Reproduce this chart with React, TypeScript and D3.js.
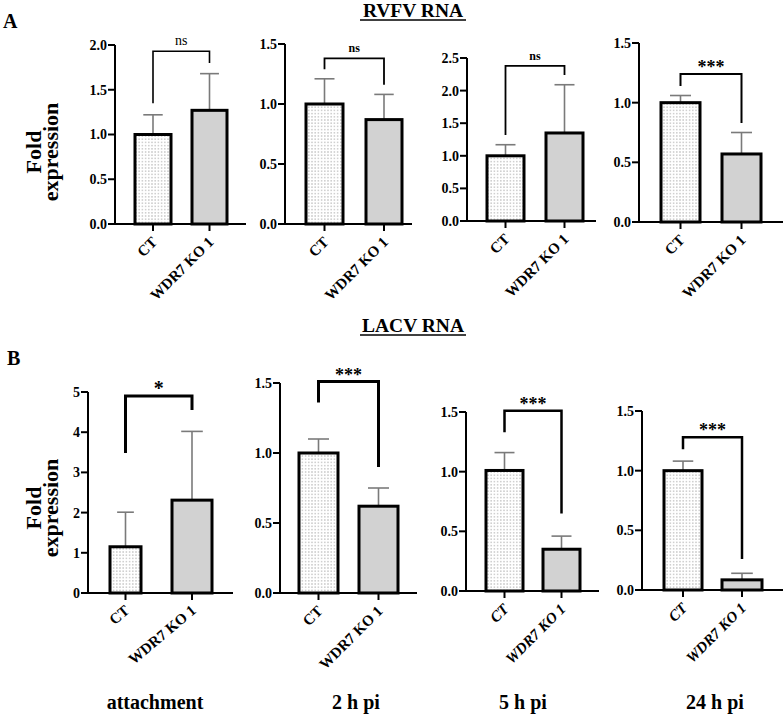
import React from "react";
import * as d3 from "d3";

// ---------- DATA ----------
const groups = ["CT", "WDR7 KO 1"];
const ctMeans = [1.0, 1.0, 1.0, 1.0, 1.15, 1.0, 1.01, 1.0];
const ctUpper = [1.22, 1.21, 1.17, 1.06, 2.01, 1.1, 1.16, 1.08];
const koMeans = [1.27, 0.87, 1.35, 0.57, 2.31, 0.62, 0.35, 0.085];
const koUpper = [1.68, 1.08, 2.09, 0.75, 4.02, 0.75, 0.46, 0.14];
const yMaxes = [2.0, 1.5, 2.5, 1.5, 5, 1.5, 1.5, 1.5];
const ySteps = [0.5, 0.5, 0.5, 0.5, 1, 0.5, 0.5, 0.5];
const sigLabels = ["ns", "ns", "ns", "***", "*", "***", "***", "***"];
const bracketTop = [1.93, 1.38, 2.38, 1.24, 4.9, 1.51, 1.51, 1.28];
const bracketLeftEnd = [1.35, 1.29, 1.32, 1.14, 3.48, 1.36, 1.33, 1.18];
const bracketRightEnd = [1.8, 1.16, 2.24, 0.83, 4.55, 0.9, 0.65, 0.26];
const sectionTitles = ["RVFV RNA", "LACV RNA"];
const sectionLetters = ["A", "B"];
const timeLabels = ["attachment", "2 h pi", "5 h pi", "24 h pi"];
const yAxisTitle = ["Fold", "expression"];

// ---------- LAYOUT ----------
type Layout = {
  axisX: number; xEnd: number; y0: number; yTop: number;
  ctX: number; koX: number; ctW: number; koW: number;
  bw: number; sigSize: number; sigBold: boolean; sigDy: number;
  italic: boolean; rot: number;
};
const layouts: Layout[] = [
  { axisX: 115, xEnd: 246, y0: 224, yTop: 45, ctX: 153, koX: 209.5, ctW: 36, koW: 35, bw: 1.6, sigSize: 14, sigBold: false, sigDy: -6, italic: false, rot: -45 },
  { axisX: 285, xEnd: 412, y0: 224, yTop: 44, ctX: 324.5, koX: 384, ctW: 37, koW: 36, bw: 1.8, sigSize: 12, sigBold: true, sigDy: -6, italic: false, rot: -45 },
  { axisX: 467, xEnd: 596, y0: 221, yTop: 58, ctX: 505.5, koX: 564.5, ctW: 37, koW: 37, bw: 1.8, sigSize: 12, sigBold: true, sigDy: -6, italic: false, rot: -45 },
  { axisX: 639, xEnd: 783, y0: 222, yTop: 43, ctX: 680.5, koX: 741.5, ctW: 39, koW: 39, bw: 2, sigSize: 18, sigBold: true, sigDy: -1, italic: false, rot: -45 },
  { axisX: 88, xEnd: 233, y0: 593, yTop: 392, ctX: 125.5, koX: 192, ctW: 31, koW: 40, bw: 3, sigSize: 20, sigBold: true, sigDy: -1, italic: false, rot: -40 },
  { axisX: 280, xEnd: 417, y0: 593, yTop: 383, ctX: 318.5, koX: 378.5, ctW: 39, koW: 39, bw: 3, sigSize: 18, sigBold: true, sigDy: -1, italic: false, rot: -45 },
  { axisX: 466, xEnd: 599, y0: 591, yTop: 412, ctX: 504.5, koX: 561.5, ctW: 37, koW: 37, bw: 2.5, sigSize: 18, sigBold: true, sigDy: -1, italic: true, rot: -45 },
  { axisX: 642, xEnd: 783, y0: 590, yTop: 411, ctX: 683, koX: 742, ctW: 38, koW: 40, bw: 2.5, sigSize: 18, sigBold: true, sigDy: -1, italic: true, rot: -45 },
];
const timeLabelX = [155, 356, 523, 715];
const FONT = "'Liberation Serif', 'Times New Roman', serif";

function Panel({ i }: { i: number }) {
  const L = layouts[i];
  const y = d3.scaleLinear().domain([0, yMaxes[i]]).range([L.y0, L.yTop]);
  const x = d3.scalePoint<string>().domain(groups).range([L.ctX, L.koX]);
  const ticks = d3.range(0, yMaxes[i] + 1e-9, ySteps[i]);
  const fmt = ySteps[i] < 1 ? d3.format(".1f") : d3.format("d");
  const means = [ctMeans[i], koMeans[i]];
  const uppers = [ctUpper[i], koUpper[i]];
  const widths = [L.ctW, L.koW];
  const tickLen = 7;
  const xl = x(groups[0])!;
  const xr = x(groups[1])!;
  return (
    <g>
      {groups.map((g, k) => {
        const cx = x(g)!;
        const capW = widths[k] * 0.27;
        return (
          <g key={"e" + k} stroke="#7a7a7a" strokeWidth={1.6}>
            <line x1={cx} x2={cx} y1={y(means[k])} y2={y(uppers[k])} />
            <line x1={cx - capW} x2={cx + capW} y1={y(uppers[k])} y2={y(uppers[k])} />
          </g>
        );
      })}
      {groups.map((g, k) => {
        const cx = x(g)!;
        return (
          <rect
            key={"b" + k}
            x={cx - widths[k] / 2}
            y={y(means[k])}
            width={widths[k]}
            height={y(0) - y(means[k])}
            fill={k === 0 ? "url(#dots)" : "#d2d2d2"}
            stroke="#000"
            strokeWidth={3}
          />
        );
      })}
      <line x1={L.axisX} x2={L.axisX} y1={y(yMaxes[i])} y2={L.y0} stroke="#000" strokeWidth={2} />
      {ticks.map((t) => (
        <g key={"t" + t}>
          <line x1={L.axisX - tickLen} x2={L.axisX} y1={y(t)} y2={y(t)} stroke="#000" strokeWidth={2} />
          <text
            x={L.axisX - tickLen - 1}
            y={y(t)}
            dy="0.35em"
            textAnchor="end"
            fontFamily={FONT}
            fontWeight="bold"
            fontSize={14}
          >
            {fmt(t)}
          </text>
        </g>
      ))}
      <line x1={L.axisX - tickLen} x2={L.xEnd} y1={L.y0} y2={L.y0} stroke="#000" strokeWidth={2} />
      {groups.map((g) => (
        <g key={"x" + g}>
          <line x1={x(g)!} x2={x(g)!} y1={L.y0} y2={L.y0 + tickLen} stroke="#000" strokeWidth={2} />
          <text
            transform={`translate(${x(g)! + 5},${L.y0 + 19}) rotate(${L.rot})`}
            textAnchor="end"
            fontFamily={FONT}
            fontWeight="bold"
            fontStyle={L.italic ? "italic" : "normal"}
            fontSize={15}
          >
            {g}
          </text>
        </g>
      ))}
      <path
        d={`M${xl},${y(bracketLeftEnd[i])}V${y(bracketTop[i])}H${xr}V${y(bracketRightEnd[i])}`}
        fill="none"
        stroke="#000"
        strokeWidth={L.bw}
      />
      <text
        x={(xl + xr) / 2}
        y={y(bracketTop[i]) + L.sigDy}
        textAnchor="middle"
        fontFamily={FONT}
        fontWeight={L.sigBold ? "bold" : "normal"}
        fontSize={L.sigSize}
      >
        {sigLabels[i]}
      </text>
    </g>
  );
}

function YTitle({ cy }: { cy: number }) {
  return (
    <text
      transform={`translate(41,${cy}) rotate(-90)`}
      textAnchor="middle"
      fontFamily={FONT}
      fontWeight="bold"
      fontSize={22}
    >
      <tspan x={0} dy={0}>{yAxisTitle[0]}</tspan>
      <tspan x={0} dy={17}>{yAxisTitle[1]}</tspan>
    </text>
  );
}

export default function App() {
  const titleY = [17, 332];
  return (
    <svg width={784} height={718} style={{ position: "absolute", left: 0, top: 0, background: "#fff" }}>
      <defs>
        <pattern id="dots" width={3.2} height={3.2} patternUnits="userSpaceOnUse">
          <rect width={3.2} height={3.2} fill="#fff" />
          <circle cx={1.6} cy={1.6} r={0.6} fill="#8a8a8a" />
        </pattern>
      </defs>
      <rect width={784} height={718} fill="#fff" />
      {sectionTitles.map((t, k) => (
        <g key={t}>
          <text x={413} y={titleY[k]} textAnchor="middle" fontFamily={FONT} fontWeight="bold" fontSize={19.5}>
            {t}
          </text>
          <line x1={360} x2={466} y1={titleY[k] + 3} y2={titleY[k] + 3} stroke="#000" strokeWidth={1.6} />
        </g>
      ))}
      <text x={3} y={28} fontFamily={FONT} fontWeight="bold" fontSize={20}>{sectionLetters[0]}</text>
      <text x={7} y={365} fontFamily={FONT} fontWeight="bold" fontSize={20}>{sectionLetters[1]}</text>
      <YTitle cy={152} />
      <YTitle cy={508} />
      {layouts.map((_, i) => (
        <Panel key={i} i={i} />
      ))}
      {timeLabels.map((t, k) => (
        <text key={t} x={timeLabelX[k]} y={709} textAnchor="middle" fontFamily={FONT} fontWeight="bold" fontSize={20}>
          {t}
        </text>
      ))}
    </svg>
  );
}
